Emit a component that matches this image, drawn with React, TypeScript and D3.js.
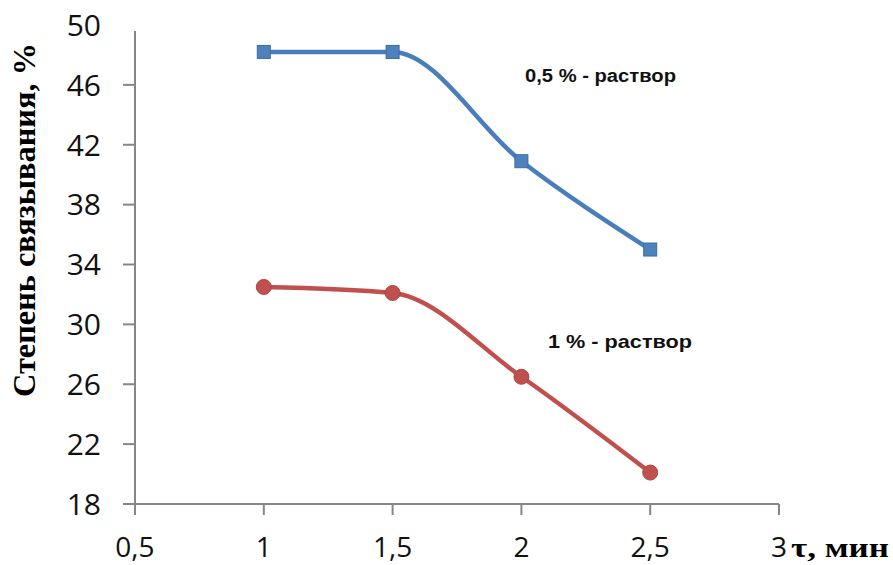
import React from "react";
import * as d3 from "d3";

const xTicks = [0.5, 1, 1.5, 2, 2.5, 3];
const yTicks = [18, 22, 26, 30, 34, 38, 42, 46, 50];
const times = [1, 1.5, 2, 2.5];
const series05 = [48.2, 48.2, 40.9, 35.0];
const series1 = [32.5, 32.1, 26.5, 20.1];
const label05 = "0,5 % - раствор";
const label1 = "1 % - раствор";
const yTitle = "Степень связывания, %";
const xTitle = "τ, мин";

const W = 893;
const H = 565;
const x = d3.scaleLinear().domain([0.5, 3]).range([135, 779]);
const y = d3.scaleLinear().domain([18, 50]).range([504, 25]);
const fmt = (v: number) => String(v).replace(".", ",");

export default function App() {
  const line = d3
    .line<[number, number]>()
    .x((d) => x(d[0]))
    .y((d) => y(d[1]))
    .curve(d3.curveMonotoneX);
  const blue = times.map((t, i) => [t, series05[i]] as [number, number]);
  const red = times.map((t, i) => [t, series1[i]] as [number, number]);
  const axisColor = "#868686";
  const tickFont = "'Open Sans', 'Liberation Sans', sans-serif";
  return (
    <svg
      width={W}
      height={H}
      style={{ position: "absolute", left: 0, top: 0, background: "#fff" }}
    >
      <rect width={W} height={H} fill="#fff" />
      {/* axes */}
      <line x1={x(0.5)} x2={x(0.5)} y1={y(50) + 6} y2={y(18)} stroke={axisColor} strokeWidth={2} />
      <line x1={x(0.5) - 12} x2={x(3)} y1={y(18)} y2={y(18)} stroke={axisColor} strokeWidth={2} />
      {yTicks.map((t) => (
        <g key={"y" + t}>
          {t !== 18 && t !== 50 && (
            <line x1={x(0.5) - 12} x2={x(0.5)} y1={y(t)} y2={y(t)} stroke={axisColor} strokeWidth={2} />
          )}
          <text
            x={101}
            y={y(t)}
            dy="0.36em"
            textAnchor="end"
            fontFamily={tickFont}
            fontSize={30}
            fill="#111"
          >
            {t}
          </text>
        </g>
      ))}
      {xTicks.map((t) => (
        <g key={"x" + t}>
          <line x1={x(t)} x2={x(t)} y1={y(18)} y2={y(18) + 11} stroke={axisColor} strokeWidth={2} />
          <text
            x={x(t)}
            y={557}
            textAnchor="middle"
            fontFamily={tickFont}
            fontSize={28}
            fill="#111"
          >
            {fmt(t)}
          </text>
        </g>
      ))}
      {/* titles */}
      <text
        transform={`translate(35,220) rotate(-90)`}
        textAnchor="middle"
        fontFamily="'Liberation Serif', 'Times New Roman', serif"
        fontWeight="bold"
        fontSize={31}
        textLength={354}
        lengthAdjust="spacingAndGlyphs"
        fill="#000"
      >
        {yTitle}
      </text>
      <text
        x={791}
        y={557}
        fontFamily="'Liberation Serif', 'Times New Roman', serif"
        fontWeight="bold"
        fontSize={27}
        textLength={98}
        lengthAdjust="spacingAndGlyphs"
        fill="#000"
      >
        {xTitle}
      </text>
      {/* lines */}
      <path d={line(blue) || ""} fill="none" stroke="#4A7EBB" strokeWidth={4.5} strokeLinecap="round" />
      <path d={line(red) || ""} fill="none" stroke="#C0504D" strokeWidth={4.5} strokeLinecap="round" />
      {blue.map((d, i) => (
        <rect
          key={"b" + i}
          x={x(d[0]) - 6.5}
          y={y(d[1]) - 6.5}
          width={13}
          height={13}
          fill="#4F81BD"
          stroke="#3A6BA8"
          strokeWidth={1}
        />
      ))}
      {red.map((d, i) => (
        <circle key={"r" + i} cx={x(d[0])} cy={y(d[1])} r={7.5} fill="#C0504D" stroke="#B04440" strokeWidth={1} />
      ))}
      {/* annotations */}
      <text
        x={525}
        y={82}
        fontFamily="'Liberation Sans', Arial, sans-serif"
        fontWeight="bold"
        fontSize={18}
        textLength={151}
        lengthAdjust="spacingAndGlyphs"
        fill="#111"
      >
        {label05}
      </text>
      <text
        x={548}
        y={348}
        fontFamily="'Liberation Sans', Arial, sans-serif"
        fontWeight="bold"
        fontSize={19}
        textLength={144}
        lengthAdjust="spacingAndGlyphs"
        fill="#111"
      >
        {label1}
      </text>
    </svg>
  );
}
